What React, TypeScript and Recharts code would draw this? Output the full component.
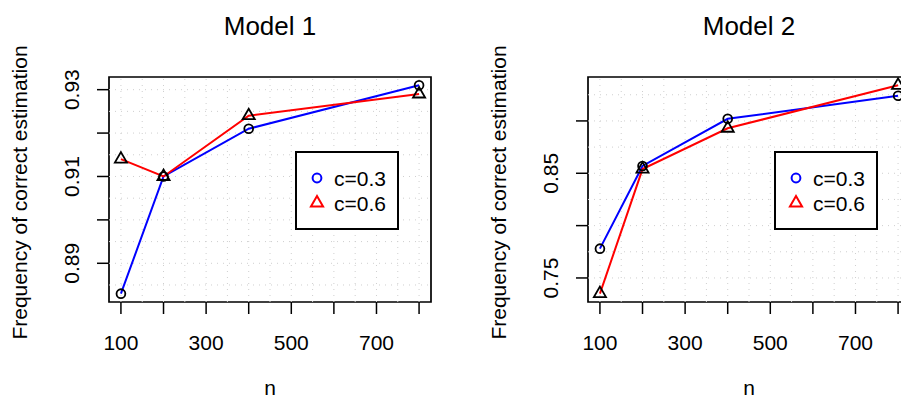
import React from 'react';
import { LineChart, Line, XAxis, YAxis, ReferenceLine, ReferenceArea, Legend } from 'recharts';

// ---- data ----
const nValues = [100, 200, 400, 800];
const model1C03 = [0.883, 0.910, 0.921, 0.931];
const model1C06 = [0.914, 0.910, 0.924, 0.929];
const model2C03 = [0.778, 0.857, 0.902, 0.924];
const model2C06 = [0.735, 0.854, 0.893, 0.934];

const seriesNames = ['c=0.3', 'c=0.6'];
const panelTitles = ['Model 1', 'Model 2'];

const xTicks = [100, 200, 300, 400, 500, 600, 700, 800];
const xTickLabels = [100, 300, 500, 700];
const xGrid = [100, 150, 200, 250, 300, 350, 400, 450, 500, 550, 600, 650, 700, 750, 800];

const model1YTicks = [0.89, 0.90, 0.91, 0.92, 0.93];
const model1YLabels = [0.89, 0.91, 0.93];
const model1YGrid = [0.885, 0.89, 0.895, 0.90, 0.905, 0.91, 0.915, 0.92, 0.925, 0.93];

const model2YTicks = [0.75, 0.80, 0.85, 0.90];
const model2YLabels = [0.75, 0.85];
const model2YGrid = [0.75, 0.775, 0.80, 0.825, 0.85, 0.875, 0.90, 0.925];

const FONT = '"Liberation Sans", Arial, Helvetica, sans-serif';
const FS = 21;
const W = 450;
const H = 400;
const PLOT_LEFT = 109;
const PLOT_RIGHT = 431;
const PLOT_TOP = 77;
const PLOT_BOTTOM = 302;
const Y_AXIS_W = 60;
const X_AXIS_H = 60;

const same = (a: number, b: number) => Math.abs(a - b) < 1e-9;

function rDomain(vals: number[]): [number, number] {
  const mn = Math.min(...vals);
  const mx = Math.max(...vals);
  const pad = (mx - mn) * 0.04;
  return [mn - pad, mx + pad];
}

const CircleDot = (props: any) => {
  const { cx, cy, index } = props;
  if (cx == null || cy == null) return <g key={`c${index}`} />;
  return <circle key={`c${index}`} cx={cx} cy={cy} r={4.4} fill="none" stroke="#000" strokeWidth={1.8} />;
};

const triPoints = (cx: number, cy: number, s: number) => {
  const r = 1.555 * s;
  const xc = 1.3468 * s;
  const yc = 0.7776 * s;
  return `${cx},${cy - r} ${cx + xc},${cy + yc} ${cx - xc},${cy + yc}`;
};

const TriDot = (props: any) => {
  const { cx, cy, index } = props;
  if (cx == null || cy == null) return <g key={`t${index}`} />;
  return <polygon key={`t${index}`} points={triPoints(cx, cy, 4.5)} fill="none" stroke="#000" strokeWidth={1.8} strokeLinejoin="miter" />;
};

const LegendBox = () => (
  <svg width={104} height={79} style={{ display: 'block', overflow: 'visible' }}>
    <rect x={1} y={1} width={102} height={77} fill="#fff" stroke="#000" strokeWidth={2} />
    <circle cx={22} cy={27} r={4.4} fill="none" stroke="#0000ff" strokeWidth={2} />
    <text x={39} y={34.5} fontSize={FS} fontFamily={FONT} fill="#000">{seriesNames[0]}</text>
    <polygon points={triPoints(22, 52, 4.5)} fill="none" stroke="#ff0000" strokeWidth={2} />
    <text x={39} y={59.5} fontSize={FS} fontFamily={FONT} fill="#000">{seriesNames[1]}</text>
  </svg>
);

type PanelProps = {
  title: string;
  c03: number[];
  c06: number[];
  yTicks: number[];
  yLabels: number[];
  yGrid: number[];
};

function Panel({ title, c03, c06, yTicks, yLabels, yGrid }: PanelProps) {
  const data = nValues.map((n, i) => ({ n, c03: c03[i], c06: c06[i] }));
  const xDomain = rDomain(nValues);
  const yDomain = rDomain([...c03, ...c06]);
  const cx = (PLOT_LEFT + PLOT_RIGHT) / 2;
  const cy = (PLOT_TOP + PLOT_BOTTOM) / 2;

  const XTick = (p: any) => {
    const show = xTickLabels.some((v) => same(v, p.payload.value));
    return (
      <text x={p.x} y={350} textAnchor="middle" fontSize={FS} fontFamily={FONT} fill="#000">
        {show ? String(p.payload.value) : ''}
      </text>
    );
  };
  const YTick = (p: any) => {
    const show = yLabels.some((v) => same(v, p.payload.value));
    return (
      <text transform={`translate(79, ${p.y}) rotate(-90)`} textAnchor="middle" fontSize={FS} fontFamily={FONT} fill="#000">
        {show ? Number(p.payload.value).toFixed(2) : ''}
      </text>
    );
  };

  return (
    <LineChart
      width={W}
      height={H}
      data={data}
      margin={{ top: PLOT_TOP, right: W - PLOT_RIGHT, bottom: H - PLOT_BOTTOM - X_AXIS_H, left: PLOT_LEFT - Y_AXIS_W }}
    >
      <XAxis
        type="number"
        dataKey="n"
        domain={xDomain}
        ticks={xTicks}
        interval={0}
        allowDataOverflow
        height={X_AXIS_H}
        tickSize={12}
        axisLine={false}
        tickLine={{ stroke: '#000', strokeWidth: 1.5 }}
        tick={XTick}
      />
      <YAxis
        type="number"
        domain={yDomain}
        ticks={yTicks}
        interval={0}
        allowDataOverflow
        width={Y_AXIS_W}
        tickSize={12}
        axisLine={false}
        tickLine={{ stroke: '#000', strokeWidth: 1.5 }}
        tick={YTick}
      />
      {xGrid.map((v) => (
        <ReferenceLine key={`gx${v}`} x={v} stroke="#cfcfcf" strokeWidth={1} strokeDasharray="1 5" />
      ))}
      {yGrid.map((v) => (
        <ReferenceLine key={`gy${v}`} y={v} stroke="#cfcfcf" strokeWidth={1} strokeDasharray="1 5" />
      ))}
      <Line dataKey="c03" name={seriesNames[0]} type="linear" stroke="#0000ff" strokeWidth={2} dot={CircleDot} activeDot={false} isAnimationActive={false} />
      <Line dataKey="c06" name={seriesNames[1]} type="linear" stroke="#ff0000" strokeWidth={2} dot={TriDot} activeDot={false} isAnimationActive={false} />
      <ReferenceArea x1={xDomain[0]} x2={xDomain[1]} y1={yDomain[0]} y2={yDomain[1]} fill="none" fillOpacity={0} stroke="#000" strokeWidth={1.7} />
      <Legend
        layout="vertical"
        align="center"
        verticalAlign="middle"
        wrapperStyle={{ left: 295, top: 151, width: 104, height: 79 }}
        content={() => <LegendBox />}
      />
      <text x={cx} y={35} textAnchor="middle" fontSize={26} fontFamily={FONT} fill="#000">{title}</text>
      <text x={cx} y={395} textAnchor="middle" fontSize={FS} fontFamily={FONT} fill="#000">n</text>
      <text transform={`translate(27, ${cy + 3}) rotate(-90)`} textAnchor="middle" fontSize={FS} fontFamily={FONT} fill="#000">
        Frequency of correct estimation
      </text>
    </LineChart>
  );
}

export default function App() {
  return (
    <div style={{ position: 'fixed', left: 0, top: 0, width: 901, height: 400, overflow: 'hidden', background: '#fff', fontFamily: FONT }}>
      <div style={{ position: 'absolute', left: 0, top: 0 }}>
        <Panel title={panelTitles[0]} c03={model1C03} c06={model1C06} yTicks={model1YTicks} yLabels={model1YLabels} yGrid={model1YGrid} />
      </div>
      <div style={{ position: 'absolute', left: 479, top: 0 }}>
        <Panel title={panelTitles[1]} c03={model2C03} c06={model2C06} yTicks={model2YTicks} yLabels={model2YLabels} yGrid={model2YGrid} />
      </div>
    </div>
  );
}
